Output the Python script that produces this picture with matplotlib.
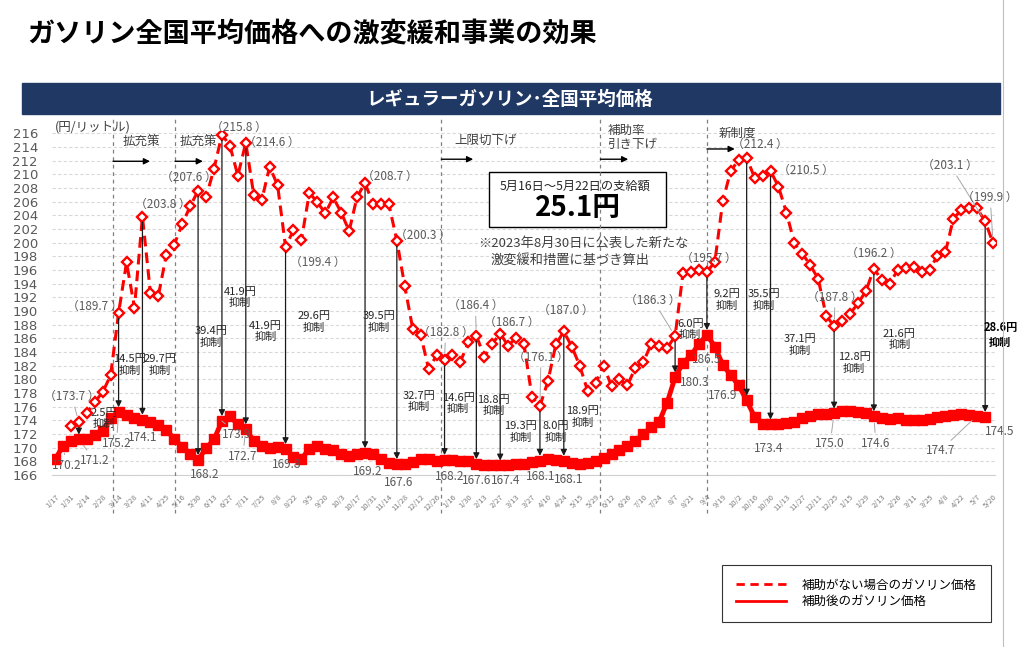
import matplotlib
matplotlib.use('Agg')
import matplotlib.pyplot as plt
from matplotlib.lines import Line2D
from matplotlib.patches import Rectangle
import numpy as np

plt.rcParams['font.family'] = ['Noto Sans CJK JP', 'DejaVu Sans']

# DATA

# weekly survey dates, one label every second week
tick_labels = ['1/17', '1/31', '2/14', '2/28', '3/14', '3/28', '4/11', '4/25', '5/16', '5/30',
               '6/13', '6/27', '7/11', '7/25', '8/8', '8/22', '9/5', '9/20', '10/3', '10/17',
               '10/31', '11/14', '11/28', '12/12', '12/26', '1/16', '1/30', '2/13', '2/27', '3/13',
               '3/27', '4/10', '4/24', '5/15', '5/29', '6/12', '6/26', '7/10', '7/24', '8/7',
               '8/21', '9/4', '9/19', '10/2', '10/16', '10/30', '11/13', '11/27', '12/11', '12/25',
               '1/15', '1/29', '2/13', '2/26', '3/11', '3/25', '4/8', '4/22', '5/7', '5/20']

# price after subsidy (yen/l)
with_subsidy = [
    168.3, 170.2, 171.0, 171.2, 171.3, 171.9, 172.5, 174.4, 175.2, 174.8,
    174.4, 174.1, 173.8, 173.3, 172.6, 171.3, 170.1, 169.1, 168.2, 169.9,
    171.2, 173.9, 174.6, 173.4, 172.7, 171.0, 170.2, 170.0, 170.1, 169.8,
    168.6, 168.4, 169.8, 170.3, 169.8, 169.6, 169.1, 168.8, 169.1, 169.2,
    169.0, 168.4, 167.8, 167.6, 167.6, 167.9, 168.3, 168.3, 168.0, 168.2,
    168.2, 168.1, 168.0, 167.6, 167.4, 167.4, 167.4, 167.5, 167.6, 167.6,
    167.9, 168.1, 168.3, 168.2, 168.1, 167.8, 167.6, 167.8, 168.0, 168.5,
    169.0, 169.7, 170.3, 171.0, 172.0, 173.0, 173.8, 176.6, 180.3, 182.4,
    183.5, 185.2, 186.5, 184.8, 182.1, 180.6, 179.1, 176.9, 174.5, 173.4,
    173.4, 173.4, 173.6, 173.8, 174.3, 174.7, 174.9, 174.9, 175.0, 175.4,
    175.4, 175.2, 175.0, 174.6, 174.3, 174.2, 174.3, 174.1, 174.0, 174.1,
    174.2, 174.5, 174.7, 174.8, 174.9, 174.8, 174.7, 174.5]

# price without subsidy (yen/l)
without_subsidy = [
    np.nan, np.nan, 173.2, 173.7, 175.0, 176.7, 178.1, 180.6, 189.7, 197.1,
    190.5, 203.8, 192.7, 192.2, 198.2, 199.7, 202.7, 205.3, 207.6, 206.6,
    210.8, 215.8, 214.2, 209.8, 214.6, 207.0, 206.2, 211.1, 208.4, 199.4,
    201.8, 200.4, 207.3, 205.9, 204.3, 206.6, 204.4, 201.7, 206.7, 208.7,
    205.7, 205.7, 205.6, 200.3, 193.6, 187.4, 186.5, 181.5, 183.5, 182.8,
    183.5, 182.6, 185.4, 186.4, 183.3, 185.2, 186.7, 184.9, 186.1, 185.1,
    177.4, 176.1, 179.7, 185.1, 187.0, 184.8, 182.0, 178.3, 179.4, 182.0,
    179.0, 180.0, 179.1, 181.7, 182.5, 185.2, 184.9, 184.6, 186.3, 195.6,
    195.7, 196.0, 195.7, 197.2, 206.1, 210.5, 212.1, 212.4, 209.5, 209.7,
    210.5, 208.2, 204.4, 199.9, 198.4, 196.7, 194.7, 189.3, 187.8, 188.5,
    189.6, 191.1, 192.9, 196.2, 194.5, 194.0, 196.0, 196.3, 196.5, 195.7,
    196.0, 198.1, 198.6, 203.5, 204.8, 205.0, 205.0, 203.1, 199.9]

# weeks with a "suppressed by" arrow: (week, text x, text y, bold)
arrow_weeks = [(3, 6.2, 174.3, False), (8, 9.4, 182.1, False), (11, 13.2, 182.1, False),
               (18, 19.6, 186.2, False), (21, 23.3, 192.0, False), (24, 26.5, 187.0, False),
               (29, 32.6, 188.4, False), (39, 40.75, 188.4, False), (43, 45.8, 176.8, False),
               (49, 50.7, 176.5, False), (53, 55.2, 176.2, False), (56, 58.6, 172.3, False),
               (61, 63.0, 172.3, False), (64, 66.4, 174.5, False), (78, 79.9, 187.3, False),
               (82, 84.5, 191.6, False), (87, 89.2, 191.6, False), (90, 93.7, 185.0, False),
               (98, 100.5, 182.4, False), (103, 106.2, 185.8, False), (117, 118.9, 186.5, True)]

# value labels: (week, dx px, dy px, leader line)
without_labels = [(3, -7, 26, True), (8, -24, 7, False), (11, 20, 12, False), (18, -9, 13, False),
                  (21, 17, 7, False), (24, 26, 0, False), (29, 32, -16, False), (39, 25, 7, False),
                  (43, 26, 5, False), (49, 1, 28, True), (53, -1, 30, True), (56, 12, 11, False),
                  (61, 1, 49, True), (64, 2, 21, False), (78, -22, 36, True), (82, 2, 14, False),
                  (87, 13, 13, False), (90, 35, 0, False), (98, 1, 29, True), (103, 0, 15, False),
                  (117, -35, 56, True), (118, -3, 46, True)]
with_labels = [(1, 4, -19, True), (3, 16, -21, True), (8, -2, -31, True), (11, 0, -18, False),
               (18, 7, -15, False), (21, 15, -13, True), (24, -3, -27, True), (29, 1, -15, False),
               (39, 3, -18, False), (43, 2, -18, False), (49, 5, -17, False), (53, 0, -16, False),
               (56, 5, -15, False), (61, 1, -16, False), (64, 5, -19, False), (78, 20, -5, False),
               (82, 0, -25, False), (87, -24, 5, False), (90, -2, -24, False), (98, -4, -30, True),
               (103, 2, -27, True), (116, -37, -35, True), (117, 15, -15, False)]

# policy changes: (line position, text, text x, text y, arrow end)
phases = [(7.3, '拡充策', 10.9, 214.7, 11.95, 211.9),
          (15.1, '拡充策', 18.0, 214.7, 18.6, 211.9),
          (48.6, '上限切下げ', 54.2, 215.0, 52.6, 212.2),
          (68.6, '補助率\n引き下げ', 71.6, 215.4, 72.1, 212.2),
          (82.0, '新制度', 85.8, 216.0, 85.5, 213.7)]

RED = '#FF0000'
GREY = '#595959'

# PLOT

fig = plt.figure(figsize=(10.24, 6.47), dpi=100)
W, H = 1024.0, 647.0

def fig_xy(x, y):
    """ pixel position in the slide -> figure fraction """
    return x / W, 1 - y / H

ax = fig.add_axes([51.8 / W, 1 - 475 / H, 943.7 / W, 343.8 / H])

weeks = np.arange(len(without_subsidy))
ax.plot(weeks[:len(with_subsidy)], with_subsidy, color=RED, lw=3.5, marker='s', ms=6.5,
        mfc=RED, mec=RED, zorder=5)
ax.plot(weeks, without_subsidy, color=RED, lw=2.2, dashes=(3.5, 2), marker='D', ms=4.8,
        mfc='white', mec=RED, mew=1.7, zorder=6)

ax.set_xlim(-0.4, 118.3)
ax.set_ylim(166, 216.3)
ax.set_yticks(np.arange(166, 217, 2))
ax.set_xticks(np.arange(0, len(without_subsidy), 2))
ax.set_xticklabels(tick_labels, rotation=45, ha='right', rotation_mode='anchor',
                   fontsize=5.5, color='#7f7f7f')
ax.tick_params(axis='x', length=0, pad=13)
ax.tick_params(axis='y', length=0, pad=10, labelsize=10, labelcolor=GREY)
for lbl in ax.get_yticklabels():
    lbl.set_family('DejaVu Sans')
    lbl.set_fontsize(9.5)

ax.yaxis.grid(True, color='#d9d9d9', lw=0.8, dashes=(3, 2))
ax.set_axisbelow(True)
for side in ['top', 'right', 'left']:
    ax.spines[side].set_visible(False)
ax.spines['bottom'].set_color('#d0d0d0')

# policy phase lines and arrows
for xpos, txt, tx, ty, ax_end, ay in phases:
    ax.axvline(xpos, ymin=-0.11, ymax=1.04, clip_on=False, color='#808080', lw=0.9,
               dashes=(3, 3), zorder=4)
    ha = 'left' if '\n' in txt else 'center'
    tx_ = xpos + 0.9 if '\n' in txt else tx
    ax.text(tx_, ty, txt, ha=ha, va='center', fontsize=9, color='#404040',
            linespacing=1.05, zorder=8)
    ax.annotate('', xy=(ax_end, ay), xytext=(xpos, ay),
                arrowprops=dict(arrowstyle='-|>', color='black', lw=1, mutation_scale=9,
                                shrinkA=0, shrinkB=0), zorder=8)

# suppression arrows
for wk, tx, ty, bold in arrow_weeks:
    top = without_subsidy[wk]
    bottom = with_subsidy[wk]
    ax.annotate('', xy=(wk, bottom), xytext=(wk, top),
                arrowprops=dict(arrowstyle='-|>', color='#1a1a1a', lw=0.9, mutation_scale=9,
                                shrinkA=4, shrinkB=3.5), zorder=7)
    ax.text(tx, ty, '{:.1f}円\n抑制'.format(top - bottom), ha='center', va='center',
            fontsize=8, color='black' if bold else '#262626',
            weight='bold' if bold else 'normal', linespacing=1.15, zorder=9)

# value labels
def value_label(series, labels, fmt):
    for wk, dx, dy, leader in labels:
        val = series[wk]
        props = None
        if leader:
            props = dict(arrowstyle='-', color='#a6a6a6', lw=0.7, shrinkA=1, shrinkB=5)
        ax.annotate(fmt.format(val), xy=(wk, val), xytext=(dx, dy),
                    textcoords='offset pixels', ha='center', va='center',
                    fontsize=8.5, color=GREY, arrowprops=props, zorder=9)

value_label(without_subsidy, without_labels, '（{:.1f} ）')
value_label(with_subsidy, with_labels, '{:.1f}')

# title and header
fig.text(*fig_xy(27, 34), 'ガソリン全国平均価格への激変緩和事業の効果', fontsize=19.5,
         weight='bold', va='center', ha='left', color='black')
fig.patches.append(Rectangle(fig_xy(22, 114), (1000 - 22) / W, 31 / H,
                             transform=fig.transFigure, color='#1F3864', zorder=0))
fig.text(*fig_xy(510, 99), 'レギュラーガソリン･全国平均価格', fontsize=13.3, weight='bold',
         color='white', ha='center', va='center')
fig.text(*fig_xy(55, 127), '(円/リットル)', fontsize=9, color='#404040', ha='left',
         va='center')

# payment box
ax.add_patch(Rectangle(fig_xy(489, 227), (666 - 489) / W, 55 / H, transform=fig.transFigure,
                       facecolor='white', edgecolor='black', lw=1, clip_on=False, zorder=3))
ax.text(*fig_xy(575, 186), '5月16日～5月22日の支給額', transform=fig.transFigure,
        fontsize=8.8, color='#262626', ha='center', va='center', zorder=9)
ax.text(*fig_xy(578, 208), '25.1円', transform=fig.transFigure, fontsize=20,
        weight='bold', color='black', ha='center', va='center', zorder=9)
ax.text(*fig_xy(478, 243), '※2023年8月30日に公表した新たな', transform=fig.transFigure,
        fontsize=9.5, color='#404040', ha='left', va='center', zorder=9)
ax.text(*fig_xy(490, 261), '激変緩和措置に基づき算出', transform=fig.transFigure,
        fontsize=9.5, color='#404040', ha='left', va='center', zorder=9)

# legend
handles = [Line2D([], [], color=RED, lw=2, dashes=(3, 2)),
           Line2D([], [], color=RED, lw=2)]
lg = fig.legend(handles, ['補助がない場合のガソリン価格', '補助後のガソリン価格'],
                loc='upper left', bbox_to_anchor=fig_xy(722, 565), fontsize=9,
                frameon=True, fancybox=False, edgecolor='black', handlelength=4.0,
                handletextpad=1.3, borderpad=1.1, labelspacing=0.25, borderaxespad=0)
lg.get_frame().set_linewidth(0.8)

# slide border on the right
fig.add_artist(Line2D([1003 / W, 1003 / W], [0, 1], color='#bfbfbf', lw=0.8))

fig.savefig('out.png', dpi=100)
